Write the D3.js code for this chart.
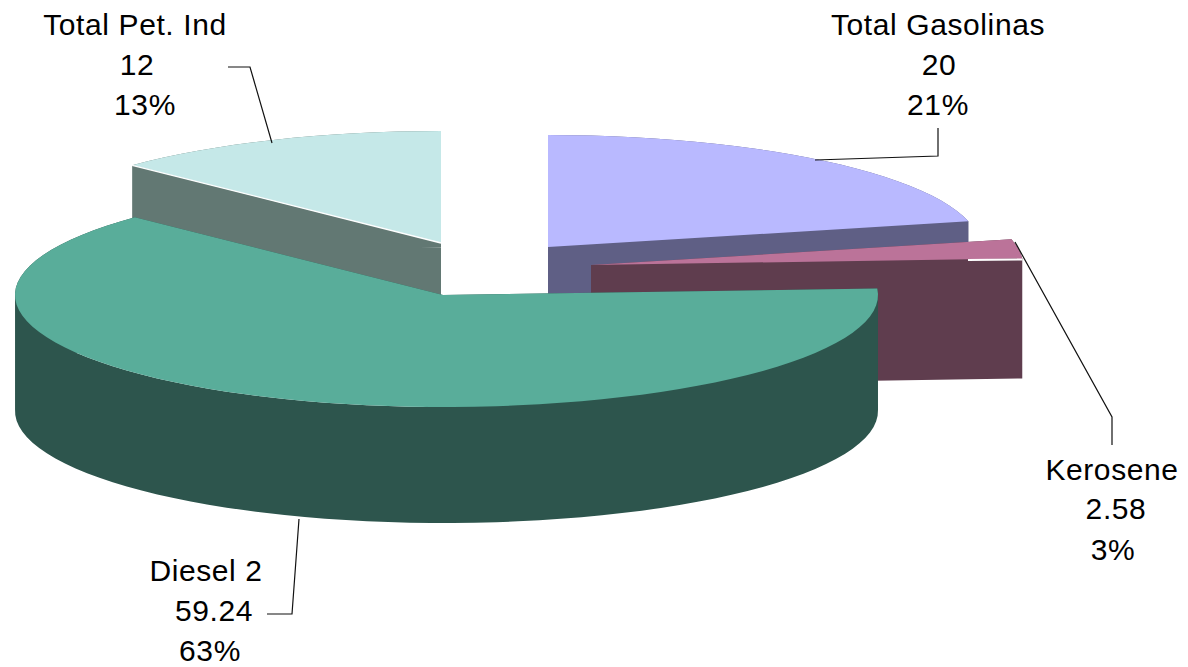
<!DOCTYPE html>
<html>
<head>
<meta charset="utf-8">
<script src="https://cdnjs.cloudflare.com/ajax/libs/d3/7.8.5/d3.min.js"></script>
<style>
    html, body { margin: 0; padding: 0; background: #fff; }
    svg { display: block; }
    text { font-family: "Liberation Sans", Arial, sans-serif; font-size: 30px; letter-spacing: 0.6px; fill: #000; text-anchor: middle; }
</style>
</head>
<body>
<svg id="chart" width="1188" height="667"></svg>
<script>
const categories = ['Total Gasolinas', 'Kerosene', 'Diesel 2', 'Total Pet. Ind'];
const values = [20, 2.58, 59.24, 12];
const valueLabels = ['20', '2.58', '59.24', '12'];
const percentLabels = ['21%', '3%', '63%', '13%'];

const topColors = ['#b9b9ff', '#bb7399', '#59ad9a', '#c5e8e8'];
const sideColors = ['#5f5f85', '#5f3d4e', '#2d554d', '#627873'];

// exploded centre of each slice and its horizontal reach [left, centre, right]
const xRanges = [[116, 548, 980], [159, 591, 1023], [15, 443, 878], [12, 441, 870]];
const centerY = [247, 265, 295, 243];
const radiusY = 112;
const depths = [116, 120, 116, 116];
// back slices first, diesel is in front of everything
const drawOrder = [3, 0, 1, 2];

// label position of every line: [x, baseline]
const labelPos = [
    [[938, 35], [939, 75], [938, 115]],
    [[1112, 480], [1116, 519], [1113, 560]],
    [[206, 581], [214, 621], [210, 661]],
    [[135, 35], [137, 75], [145, 115]]
];
const leaders = [
    [[815, 160], [938, 156], [938, 128]],
    [[1015, 242], [1112, 417], [1112, 445]],
    [[299, 519], [292, 614], [267, 614]],
    [[228, 67], [250, 67], [272, 143]]
];

const svg = d3.select('#chart');
const slices = d3.pie().sort(null).value(d => d)(values);

function outline(slice, i) {
    const sx = d3.scaleLinear().domain([-1, 0, 1]).range(xRanges[i]);
    const sy = d3.scaleLinear().domain([-1, 1]).range([centerY[i] - radiusY, centerY[i] + radiusY]);
    // coarse steps, the original rim is a bit faceted too
    const n = Math.max(2, Math.round((slice.endAngle - slice.startAngle) / 0.05));
    const pts = d3.range(n + 1).map(k => {
        const a = slice.startAngle + (slice.endAngle - slice.startAngle) * k / n;
        return [sx(Math.sin(a)), sy(-Math.cos(a))];
    });
    return { apex: [sx(0), sy(0)], rim: pts };
}

const line = d3.line();

drawOrder.forEach(i => {
    const shape = outline(slices[i], i);
    const ring = [shape.apex, ...shape.rim, shape.apex];
    const depth = depths[i];
    const g = svg.append('g').attr('class', 'slice');

    // side walls: all quads in one path, same winding, so no seams between them
    const walls = d3.pairs(ring).map(([a, b]) => {
        const quad = [a, b, [b[0], b[1] + depth], [a[0], a[1] + depth]];
        if (d3.polygonArea(quad) < 0) quad.reverse();
        return line(quad) + 'Z';
    }).join('');

    g.append('path')
        .attr('class', 'wall')
        .attr('d', walls)
        .attr('fill', sideColors[i]);

    g.append('path')
        .attr('class', 'top')
        .attr('d', line(ring) + 'Z')
        .attr('fill', topColors[i]);
});

// thin white seams under the top faces of pet. ind and kerosene
const petShape = outline(slices[3], 3);
svg.append('path')
    .attr('d', line([petShape.rim[0], petShape.apex]))
    .attr('stroke', '#fff').attr('stroke-width', 1.3).attr('fill', 'none');
const keroShape = outline(slices[1], 1);
const keroEnd = keroShape.rim[keroShape.rim.length - 1];
svg.append('path')
    .attr('d', line([[968, keroEnd[1] + 1.5], [keroEnd[0], keroEnd[1] + 1]]))
    .attr('stroke', '#fff').attr('stroke-width', 2).attr('fill', 'none');

// leader lines
svg.selectAll('path.leader')
    .data(leaders)
    .join('path')
    .attr('class', 'leader')
    .attr('d', d => line(d))
    .attr('fill', 'none')
    .attr('stroke', '#111')
    .attr('stroke-width', 1.2);

// labels
categories.forEach((name, i) => {
    const lines = [name, valueLabels[i], percentLabels[i]];
    svg.append('g').selectAll('text')
        .data(lines)
        .join('text')
        .attr('x', (d, k) => labelPos[i][k][0])
        .attr('y', (d, k) => labelPos[i][k][1])
        .text(d => d);
});
</script>
</body>
</html>
